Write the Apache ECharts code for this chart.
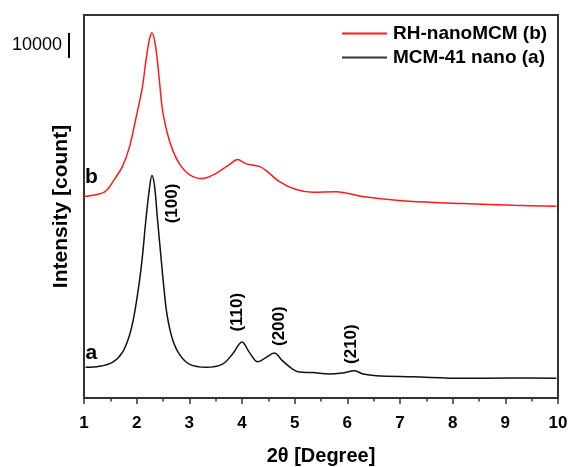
<!DOCTYPE html>
<html>
<head>
<meta charset="utf-8">
<script src="https://cdn.jsdelivr.net/npm/echarts@6/dist/echarts.min.js"></script>
<style>
html,body{margin:0;padding:0;background:#fff;}
#chart{width:568px;height:467px;}
</style>
</head>
<body>
<div id="chart"></div>
<script>
// 2θ (degree) and intensity (count) (curves offset as plotted)
const thetaA = [1.03,1.29,1.54,1.73,1.86,1.95,2.05,2.11,2.17,2.24,2.29,2.34,2.39,2.46,2.52,2.58,2.68,2.81,3.0,3.32,3.63,3.82,4.0,4.14,4.3,4.46,4.61,4.77,4.96,5.09,5.34,5.66,5.9,6.14,6.3,6.55,7.25,8.2,9.1,9.97];
const countA = [12300,12700,14300,18300,24900,32900,46400,56900,70400,83600,89200,84900,72900,56900,43600,32900,23600,17600,13600,12300,13600,17600,22500,18300,14500,16300,18000,14900,11600,10400,10200,9600,10000,10900,9600,8900,8500,7900,8000,7900];
const thetaB = [1.0,1.2,1.41,1.6,1.73,1.86,1.98,2.11,2.17,2.24,2.29,2.36,2.43,2.49,2.58,2.68,2.81,3.0,3.25,3.5,3.76,3.92,4.07,4.33,4.46,4.71,5.03,5.34,5.79,6.29,6.93,7.56,8.2,9.15,9.97];
const countB = [80800,81400,82900,88400,92900,100400,111600,124900,134400,143600,146500,140900,127600,115600,106400,99600,94000,89600,88000,90000,93600,95600,94000,92900,91200,86800,83600,82500,82700,80800,79300,78500,78000,77300,76900];
const seriesNames = ['RH-nanoMCM (b)', 'MCM-41 nano (a)'];
const xTicks = [1,2,3,4,5,6,7,8,9,10];
const peakLabels = ['(100)', '(110)', '(200)', '(210)'];
const peakTheta = [2.67, 3.91, 4.71, 6.08];
const peakCount = [78000, 34400, 28800, 21600];
const curveTags = ['b', 'a'];
const tagTheta = [1.14, 1.14];
const tagCount = [88400, 18000];
const scaleBarCounts = 10000;
const scaleBarBase = 136400;

const pairs = (xs, ys) => xs.map((x, i) => [x, ys[i]]);
const font = 'Liberation Sans, Arial, sans-serif';
const hidden = {color: 'rgba(0,0,0,0)'};
const peakMarks = peakLabels.map((t, i) => ({
  coord: [peakTheta[i], peakCount[i]],
  label: {show: true, position: 'inside', formatter: t, rotate: 90, fontFamily: font, fontWeight: 'bold', fontSize: 17, color: '#000'}
}));
const tagMark = i => ({
  coord: [tagTheta[i], tagCount[i]],
  label: {show: true, position: 'inside', formatter: curveTags[i], fontFamily: font, fontWeight: 'bold', fontSize: 21, color: '#000'}
});

const chart = echarts.init(document.getElementById('chart'), null, {renderer: 'canvas'});
const option = {
  backgroundColor: '#fff',
  animation: false,
  grid: {left: 84, right: 10, top: 15, bottom: 69, containLabel: false, outerBoundsMode: 'none',
         show: true, borderColor: '#333', borderWidth: 2, backgroundColor: 'transparent'},
  legend: {
    left: 337, top: 19, orient: 'vertical', itemWidth: 45, itemHeight: 2, itemGap: 5,
    data: seriesNames.map(n => ({name: n, icon: 'rect'})),
    textStyle: {fontFamily: font, fontWeight: 'bold', fontSize: 19, color: '#000', padding: [0, 0, 0, 1]}
  },
  xAxis: {
    type: 'value', min: xTicks[0], max: xTicks[xTicks.length - 1], interval: 1,
    axisLine: {show: true, lineStyle: {color: '#333', width: 2}},
    axisTick: {show: true, inside: false, length: 6, lineStyle: {color: '#333', width: 1.5}},
    minorTick: {show: true, splitNumber: 2, length: 3.5, lineStyle: {color: '#333', width: 1.5}},
    splitLine: {show: false},
    axisLabel: {fontFamily: font, fontWeight: 'bold', fontSize: 17, color: '#000', margin: 17},
    name: '2θ [Degree]', nameLocation: 'middle', nameGap: 48,
    nameTextStyle: {fontFamily: font, fontWeight: 'bold', fontSize: 20, color: '#000'}
  },
  yAxis: {
    type: 'value', min: 0, max: 153600,
    axisLine: {show: true, lineStyle: {color: '#333', width: 2}},
    axisTick: {show: false}, axisLabel: {show: false}, splitLine: {show: false},
    name: 'Intensity [count]', nameLocation: 'middle', nameGap: 12,
    nameTextStyle: {fontFamily: font, fontWeight: 'bold', fontSize: 21, color: '#000'}
  },
  series: [
    {
      name: seriesNames[0], type: 'line', data: pairs(thetaB, countB), symbol: 'none', smooth: 0.35,
      lineStyle: {color: '#ff1a1a', width: 1.5}, itemStyle: {color: '#ff1a1a'},
      markPoint: {symbol: 'circle', symbolSize: 1, silent: true, itemStyle: hidden, data: [tagMark(0)]}
    },
    {
      name: seriesNames[1], type: 'line', data: pairs(thetaA, countA), symbol: 'none', smooth: 0.35,
      lineStyle: {color: '#111', width: 1.5}, itemStyle: {color: '#333'},
      markPoint: {symbol: 'circle', symbolSize: 1, silent: true, itemStyle: hidden, data: peakMarks.concat([tagMark(1)])}
    }
  ]
};
chart.setOption(option);

// scale bar of 10000 counts, positioned through the y scale
const yTop = chart.convertToPixel({yAxisIndex: 0}, scaleBarBase + scaleBarCounts);
const yBot = chart.convertToPixel({yAxisIndex: 0}, scaleBarBase);
chart.setOption({
  graphic: [
    {type: 'line', shape: {x1: 69, y1: yTop, x2: 69, y2: yBot}, style: {stroke: '#000', lineWidth: 2}},
    {type: 'text', x: 62, y: (yTop + yBot) / 2, style: {text: String(scaleBarCounts), font: '18px ' + font, fill: '#000', align: 'right', verticalAlign: 'middle'}}
  ]
});
</script>
</body>
</html>
